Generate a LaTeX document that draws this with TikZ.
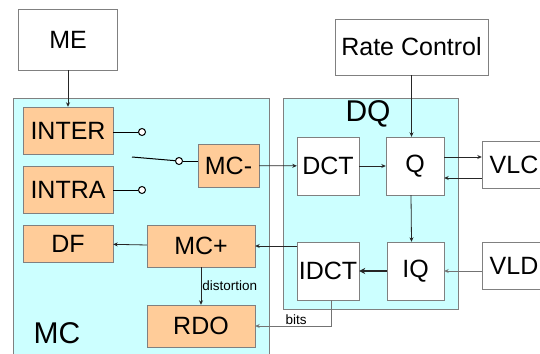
\documentclass[tikz,border=0pt]{standalone}
\usepackage{fontspec}
\setmainfont{Liberation Sans}
\usetikzlibrary{arrows.meta, positioning}
\definecolor{mcfill}{HTML}{CCFFFF}
\definecolor{blockfill}{HTML}{FFCC99}
\definecolor{edge}{HTML}{808080}

\begin{document}
\begin{tikzpicture}[x=1pt, y=-1pt,
    region/.style={rectangle, draw=edge, fill=mcfill, inner sep=0pt},
    blk/.style={rectangle, draw=edge, fill=white, inner sep=0pt,
                font=\fontsize{25}{27}\selectfont},
    mcblk/.style={blk, fill=blockfill},
    port/.style={circle, draw=black, line width=1pt, fill=white, inner sep=0pt, minimum size=7pt},
    big/.style={font=\fontsize{30}{32}\selectfont},
    lbl/.style={font=\fontsize{13.5}{15}\selectfont, inner sep=1pt, text=black},
    arr/.style={-{Stealth[length=4.5pt, width=4pt]}, line width=0.8pt, black!85},
    farr/.style={arr, black!55, line width=0.7pt},
]
    \useasboundingbox (0,0) rectangle (540,353);

    \node[region, minimum width=256pt, minimum height=267pt] (mc) at (141,231.5) {};
    \node[region, minimum width=175pt, minimum height=211pt] (dq) at (370.5,203.5) {};
    \node[big] (mclbl) at (57,333) {MC};
    \node[big] (dqlbl) at (368,114) {DQ};

    \node[blk, minimum width=99pt, minimum height=61pt] (me) at (68,39.5) {ME};
    \node[blk, minimum width=153pt, minimum height=56pt] (rc) at (411.5,47) {Rate Control};

    \node[mcblk, minimum width=90pt, minimum height=47pt] (inter) at (68,130.5) {INTER};
    \node[mcblk, minimum width=90pt, minimum height=47pt] (intra) at (68,189.5) {INTRA};
    \node[mcblk, minimum width=61pt, minimum height=43pt] (mcm) at (228.5,165.5) {MC-};
    \node[mcblk, minimum width=90pt, minimum height=37pt] (df) at (68,243.5) {DF};
    \node[mcblk, minimum width=108pt, minimum height=42pt] (mcp) at (201,246) {MC+};
    \node[mcblk, minimum width=108pt, minimum height=42pt] (rdo) at (201,326) {RDO};

    \node[port] (pinter) at (142,132) {};
    \node[port] (pintra) at (142,190) {};
    \node[port] (pmc) at (179,161) {};
    \coordinate (sw) at (132,157);

    \node[blk, minimum width=62pt, minimum height=58pt] (dct) at (328,166) {DCT};
    \node[blk, minimum width=58pt, minimum height=58pt] (q) at (415,166) {Q};
    \node[blk, minimum width=62pt, minimum height=58pt] (idct) at (328,271) {IDCT};
    \node[blk, minimum width=57pt, minimum height=58pt] (iq) at (415.5,271) {IQ};
    \node[blk, minimum width=64pt, minimum height=47pt] (vlc) at (514,164.5) {VLC};
    \node[blk, minimum width=64pt, minimum height=47pt] (vld) at (514,265.5) {VLD};

    \coordinate (qout) at ([yshift=9pt]q.east);
    \coordinate (qin) at ([yshift=-12pt]q.east);

    \draw[arr] (me) -- (inter);
    \draw[line width=1pt] (inter.east |- pinter) -- (pinter);
    \draw[line width=1pt] (intra.east |- pintra) -- (pintra);
    \draw[line width=1pt] (sw) -- (pmc);
    \draw[line width=1pt] (pmc) -- (mcm.west |- pmc);
    \draw[arr] (mcm) -- (dct);
    \draw[arr] (dct) -- (q);
    \draw[arr] (rc.south) -- (rc.south |- q.north);
    \draw[arr] (qout) -- (qout -| vlc.west);
    \draw[arr] (qin -| vlc.west) -- (qin);
    \draw[arr] ([xshift=-4pt]q.south) -- ([xshift=-4pt]iq.north);
    \draw[-{Stealth[length=6pt, width=6pt]}, line width=1.5pt, black!85] (iq) -- (idct);
    \draw[farr] (vld.west |- iq.east) -- (iq.east);
    \draw[arr] (idct.west |- mcp.east) -- (mcp.east);
    \draw[arr] (mcp) -- (df);
    \draw[arr] (mcp) -- node[lbl, right] {distortion} (rdo);
    \draw[farr] ([xshift=3pt]idct.south) |- node[lbl, above, pos=0.73] {bits} (rdo.east);
\end{tikzpicture}
\end{document}
